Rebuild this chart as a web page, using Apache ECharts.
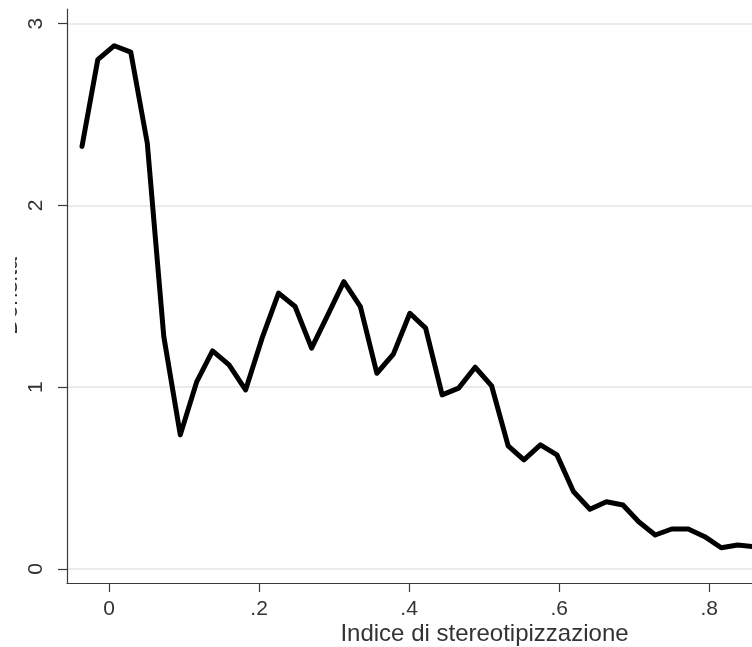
<!DOCTYPE html>
<html>
<head>
<meta charset="utf-8">
<script src="https://cdn.jsdelivr.net/npm/echarts@6/dist/echarts.min.js"></script>
<style>
html,body{margin:0;padding:0;background:#fff;}
#chart{width:752px;height:647px;}
</style>
</head>
<body>
<div id="chart"></div>
<script>
// Kernel density estimate
const xValues = [-0.036, -0.015, 0.007, 0.029, 0.051, 0.073, 0.095, 0.117, 0.138, 0.160,
  0.182, 0.204, 0.226, 0.248, 0.270, 0.291, 0.313, 0.335, 0.357, 0.379,
  0.401, 0.422, 0.444, 0.466, 0.488, 0.510, 0.532, 0.553, 0.575, 0.597,
  0.619, 0.641, 0.663, 0.685, 0.706, 0.728, 0.750, 0.772, 0.794, 0.816,
  0.838, 0.859, 0.881];
const densityValues = [2.325, 2.802, 2.879, 2.844, 2.343, 1.279, 0.738, 1.031, 1.200, 1.123,
  0.985, 1.270, 1.518, 1.444, 1.215, 1.393, 1.581, 1.444, 1.077, 1.182,
  1.407, 1.325, 0.958, 0.995, 1.110, 1.007, 0.677, 0.600, 0.683, 0.628,
  0.426, 0.329, 0.370, 0.352, 0.260, 0.187, 0.220, 0.220, 0.178, 0.117,
  0.132, 0.123, 0.120];
const xTickValues = [0, 0.2, 0.4, 0.6, 0.8];
const xTickLabels = ['0', '.2', '.4', '.6', '.8'];
const yTickValues = [0, 1, 2, 3];
const yTickLabels = ['0', '1', '2', '3'];
const xTitle = 'Indice di stereotipizzazione';
const yTitle = 'Densità';

const FONT = '"Liberation Sans", Arial, Helvetica, sans-serif';
const seriesData = xValues.map((x, i) => [x, densityValues[i]]);
function labelFor(values, labels) {
  return function (v) {
    for (let i = 0; i < values.length; i++) {
      if (Math.abs(values[i] - v) < 1e-9) return labels[i];
    }
    return '';
  };
}

const chart = echarts.init(document.getElementById('chart'), null, {renderer: 'canvas'});
chart.setOption({
  animation: false,
  backgroundColor: '#ffffff',
  grid: {left: 67, right: 0, top: 9, bottom: 64, containLabel: false, outerBoundsMode: 'none'},
  xAxis: {
    type: 'value',
    min: -0.056,
    max: 0.857,
    name: xTitle,
    nameLocation: 'middle',
    nameGap: 39,
    nameMoveOverlap: false,
    nameTextStyle: {fontFamily: FONT, fontSize: 24, color: '#333', padding: [0, 0, 0, 150]},
    axisLine: {show: true, onZero: false, lineStyle: {color: '#3a3a3a', width: 1.2}},
    axisTick: {show: true, length: 9, customValues: xTickValues, lineStyle: {color: '#3a3a3a', width: 1.2}},
    axisLabel: {
      customValues: xTickValues,
      formatter: labelFor(xTickValues, xTickLabels),
      fontFamily: FONT, fontSize: 21, color: '#333', margin: 16
    },
    splitLine: {show: false}
  },
  yAxis: {
    type: 'value',
    min: -0.077,
    max: 3.081,
    name: yTitle,
    nameLocation: 'middle',
    nameGap: 45,
    nameRotate: 90,
    nameMoveOverlap: false,
    nameTextStyle: {fontFamily: FONT, fontSize: 23, color: '#333'},
    axisLine: {show: true, onZero: false, lineStyle: {color: '#3a3a3a', width: 1.2}},
    axisTick: {show: true, length: 9, customValues: yTickValues, lineStyle: {color: '#3a3a3a', width: 1.2}},
    axisLabel: {
      customValues: yTickValues,
      formatter: labelFor(yTickValues, yTickLabels),
      rotate: 90,
      fontFamily: FONT, fontSize: 21, color: '#333', margin: 20
    },
    splitLine: {show: true, lineStyle: {color: '#ebebeb', width: 2}}
  },
  graphic: [{
    type: 'rect', left: 0, top: 230, z: 100,
    shape: {width: 15, height: 130},
    style: {fill: '#ffffff'}
  }],
  series: [{
    type: 'line',
    data: seriesData,
    showSymbol: false,
    symbol: 'none',
    clip: true,
    lineStyle: {color: '#000000', width: 5, join: 'round', cap: 'round'},
    z: 10
  }]
});
</script>
</body>
</html>
